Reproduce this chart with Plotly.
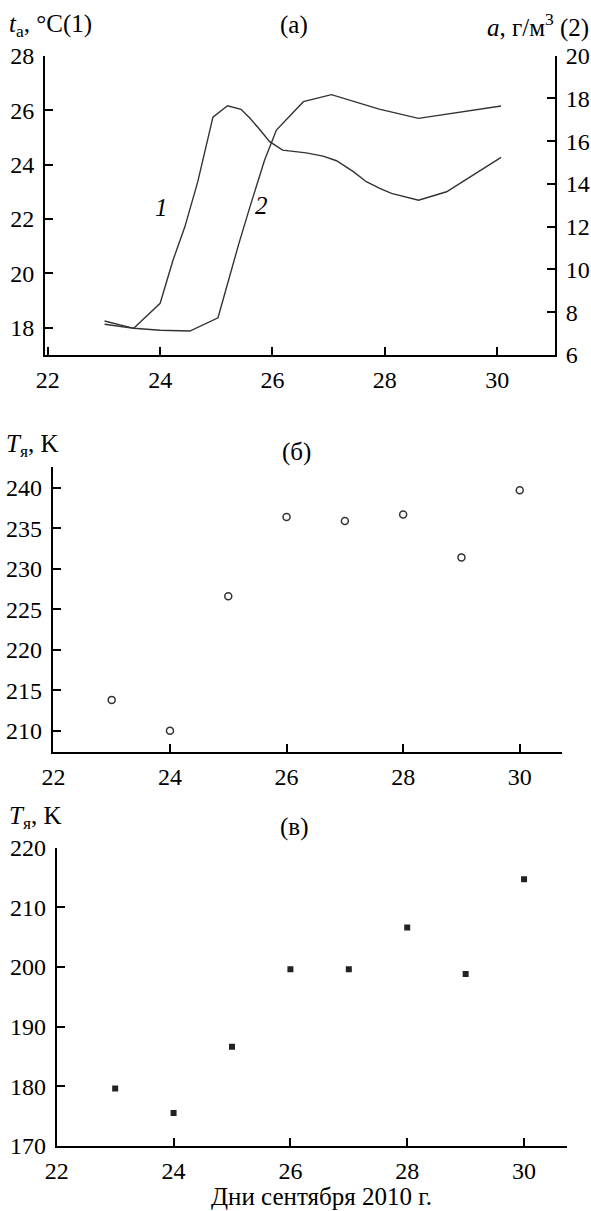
import plotly.graph_objects as go

# Panel (а): air temperature (curve 1) and absolute humidity (curve 2)
days_t = [23.01, 23.53, 24.0, 24.23, 24.44, 24.67, 24.94, 25.2, 25.44, 25.6, 25.78,
          25.95, 26.18, 26.6, 26.9, 27.14, 27.44, 27.67, 27.91, 28.12, 28.6, 29.1,
          29.57, 30.07]
temp = [18.25, 17.98, 18.9, 20.49, 21.71, 23.37, 25.74, 26.16, 26.03, 25.7, 25.27,
        24.84, 24.53, 24.43, 24.31, 24.14, 23.74, 23.37, 23.12, 22.94, 22.69, 23.0,
        23.61, 24.26]
days_a = [23.01, 23.53, 24.0, 24.53, 25.03, 25.4, 25.6, 25.86, 26.07, 26.55, 27.05,
          27.9, 28.6, 30.07]
hum = [7.44, 7.25, 7.16, 7.12, 7.74, 11.2, 12.94, 15.12, 16.52, 17.85, 18.18,
       17.5, 17.07, 17.65]

# Panels (б) and (в)
days = [23, 24, 25, 26, 27, 28, 29, 30]
t_b = [213.8, 210.0, 226.6, 236.4, 235.9, 236.7, 231.4, 239.7]
t_v = [179.6, 175.5, 186.6, 199.6, 199.6, 206.6, 198.8, 214.7]

x_ticks = [22, 24, 26, 28, 30]
ya_ticks = [18, 20, 22, 24, 26, 28]
ya2_ticks = [6, 8, 10, 12, 14, 16, 18, 20]
yb_ticks = [210, 215, 220, 225, 230, 235, 240]
yv_ticks = [170, 180, 190, 200, 210, 220]

W, H = 591, 1211
FONT = "Liberation Serif"
FS_TICK = 24
FS_TXT = 25
LC = "#333333"

def px(v):
    return v / W

def py(v):
    return 1 - v / H

fig = go.Figure()
fig.add_trace(go.Scatter(x=days_t, y=temp, mode="lines", line=dict(color=LC, width=1.4),
                         xaxis="x", yaxis="y", showlegend=False))
fig.add_trace(go.Scatter(x=days_a, y=hum, mode="lines", line=dict(color=LC, width=1.4),
                         xaxis="x", yaxis="y2", showlegend=False))
fig.add_trace(go.Scatter(x=days, y=t_b, mode="markers",
                         marker=dict(symbol="circle-open", size=7, color=LC,
                                     line=dict(width=1.5, color=LC)),
                         xaxis="x2", yaxis="y3", showlegend=False))
fig.add_trace(go.Scatter(x=days, y=t_v, mode="markers",
                         marker=dict(symbol="square", size=6, color="#222222"),
                         xaxis="x3", yaxis="y4", showlegend=False))

def axc(**kw):
    d = dict(showline=True, linecolor="black", linewidth=2, ticks="inside",
             ticklen=8, tickwidth=2, tickcolor="black", showgrid=False,
             zeroline=False, automargin=False,
             tickfont=dict(family=FONT, size=FS_TICK, color="black"))
    d.update(kw)
    return d

fig.update_layout(
    width=W, height=H, margin=dict(l=0, r=0, t=0, b=0, autoexpand=False),
    paper_bgcolor="white", plot_bgcolor="white",
    font=dict(family=FONT, size=FS_TICK, color="black"),
    xaxis=axc(domain=[px(45), px(555)], range=[21.95, 31.03], tickvals=x_ticks,
              anchor="y", ticklabelstandoff=2),
    yaxis=axc(domain=[py(355), py(55.7)], range=[17, 28], tickvals=ya_ticks,
              anchor="x", ticklabelstandoff=4),
    yaxis2=axc(domain=[py(355), py(55.7)], range=[6, 20], tickvals=ya2_ticks,
               anchor="x", overlaying="y", side="right", ticklabelstandoff=4),
    xaxis2=axc(domain=[px(52.8), px(562.3)], range=[21.99, 30.73], tickvals=x_ticks,
               anchor="y3", ticklabelstandoff=2),
    yaxis3=axc(domain=[py(751.7), py(466.7)], range=[207.4, 242.6], tickvals=yb_ticks,
               anchor="x2", ticklabelstandoff=4),
    xaxis3=axc(domain=[px(56.7), px(566.7)], range=[21.999, 30.73], tickvals=x_ticks,
               anchor="y4", ticklabelstandoff=2),
    yaxis4=axc(domain=[py(1145.7), py(847.7)], range=[170, 220], tickvals=yv_ticks,
               anchor="x3", ticklabelstandoff=4),
)

def ann(text, x, y, xanchor="center", yanchor="middle", size=FS_TXT):
    fig.add_annotation(text=text, x=px(x), y=py(y), xref="paper", yref="paper",
                       xanchor=xanchor, yanchor=yanchor, showarrow=False,
                       borderpad=0,
                       font=dict(family=FONT, size=size, color="black"))

ann("<i>t</i><sub>а</sub>, °C(1)", 8, 25, "left")
ann("(а)", 294, 25)
ann("<i>a</i>, г/м<sup>3</sup> (2)", 590, 25, "right")
ann("<i>1</i>", 161, 207)
ann("<i>2</i>", 261, 206)
ann("<i>T</i><sub>я</sub>, K", 5, 445, "left")
ann("(б)", 296, 452)
ann("<i>T</i><sub>я</sub>, K", 8, 817, "left")
ann("(в)", 294, 827)
ann("Дни сентября 2010 г.", 321, 1211, yanchor="bottom")

fig.write_html("out.html")
